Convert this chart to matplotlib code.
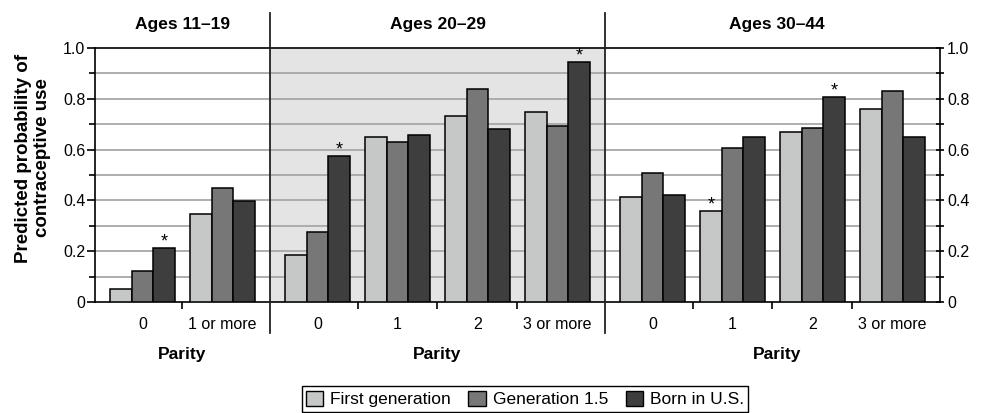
import numpy as np
import matplotlib
matplotlib.use("Agg")
import matplotlib.pyplot as plt
from matplotlib.lines import Line2D
from matplotlib.patches import Patch

plt.rcParams['font.family'] = ['Liberation Sans', 'DejaVu Sans']

# data
series = ["First generation", "Generation 1.5", "Born in U.S."]
colors = ["#c6c8c7", "#777777", "#3e3e3e"]

panels = ["Ages 11\u201319", "Ages 20\u201329", "Ages 30\u201344"]
cats_young = ["0", "1 or more"]
cats_older = ["0", "1", "2", "3 or more"]

first_gen = [[0.053, 0.346],
             [0.187, 0.648, 0.732, 0.748],
             [0.415, 0.360, 0.668, 0.761]]
gen_15 = [[0.121, 0.447],
          [0.275, 0.631, 0.838, 0.694],
          [0.507, 0.608, 0.685, 0.830]]
born_us = [[0.212, 0.397],
           [0.576, 0.658, 0.682, 0.946],
           [0.422, 0.648, 0.808, 0.648]]

# significance stars: (panel, category, series index)
stars = [(0, 0, 2), (1, 0, 2), (1, 3, 2), (2, 1, 0), (2, 2, 2)]

W, H = 987, 413
fig = plt.figure(figsize=(W / 100, H / 100), dpi=100)

# panel extents in pixels
px_left = [95, 270, 605]
px_right = [270, 605, 940]
y_top, y_bot = 48, 302

bw = 0.267
pad = 0.094
axes = []
for p in range(3):
    cats = cats_young if p == 0 else cats_older
    n = len(cats)
    ax = fig.add_axes([px_left[p] / W, 1 - y_bot / H,
                       (px_right[p] - px_left[p]) / W, (y_bot - y_top) / H])
    axes.append(ax)
    x = np.arange(n)
    vals = [first_gen[p], gen_15[p], born_us[p]]
    for s in range(3):
        ax.bar(x + (s - 1) * bw, vals[s], bw, color=colors[s],
               edgecolor="black", linewidth=1.1, zorder=3)
    for (sp, c, s) in stars:
        if sp == p:
            ax.annotate("*", (c + (s - 1) * bw, vals[s][c]),
                        xytext=(0, 1), textcoords="offset points",
                        ha="center", va="baseline", fontsize=13, zorder=4,
                        annotation_clip=False)

    ax.set_xlim(-0.5 - pad, n - 0.5 + pad)
    ax.set_ylim(0, 1.0)
    for g in np.arange(0.1, 1.0, 0.1):
        ax.axhline(g, color="#a8a8a8", linewidth=1.3, zorder=1)
    if p == 1:
        ax.set_facecolor("#e4e4e4")

    ax.spines["top"].set_linewidth(1.2)
    ax.spines["bottom"].set_linewidth(1.2)
    ax.spines["left"].set_visible(p == 0)
    ax.spines["right"].set_visible(p == 2)
    ax.spines["left"].set_linewidth(1.2)
    ax.spines["right"].set_linewidth(1.2)

    # x ticks on the category boundaries, labels at the centres
    ax.set_xticks(np.arange(0.5, n - 0.5, 1.0))
    ax.set_xticklabels([])
    ax.set_xticks(x, minor=True)
    ax.set_xticklabels(cats, minor=True, fontsize=11.5)
    ax.tick_params(axis="x", which="major", direction="out", length=5, width=1.2)
    ax.tick_params(axis="x", which="minor", length=0, pad=11)

    yt = [0, 0.2, 0.4, 0.6, 0.8, 1.0]
    ylab = ["0", "0.2", "0.4", "0.6", "0.8", "1.0"]
    if p == 0:
        ax.set_yticks(yt)
        ax.set_yticklabels(ylab, fontsize=11.5)
        ax.set_yticks(np.arange(0.1, 1.0, 0.2), minor=True)
        ax.tick_params(axis="y", which="major", direction="out", length=6, width=1.2, pad=1)
        ax.tick_params(axis="y", which="minor", direction="out", length=4, width=1.2)
    elif p == 2:
        ax.yaxis.tick_right()
        ax.set_yticks(yt)
        ax.set_yticklabels(ylab, fontsize=11.5)
        ax.set_yticks(np.arange(0.1, 1.0, 0.2), minor=True)
        ax.tick_params(axis="y", which="major", direction="inout", length=6, width=1.2, pad=2)
        ax.tick_params(axis="y", which="minor", direction="inout", length=6, width=1.2)
    else:
        ax.set_yticks([])

    cx = (px_left[p] + px_right[p]) / 2 / W
    if p == 2:
        cx = 777 / W
    fig.text(cx, 1 - 25 / H, panels[p], ha="center", va="center",
             fontsize=12.5, fontweight="bold")
    fig.text(cx, 1 - 355 / H, "Parity", ha="center", va="center",
             fontsize=12.5, fontweight="bold")

fig.text(33 / W, 1 - 158 / H, "Predicted probability of\ncontraceptive use",
         rotation=90, ha="center", va="center", fontsize=13.5,
         fontweight="bold", linespacing=1.15)

# vertical separators between the age panels
for xs in [270, 605]:
    fig.add_artist(Line2D([xs / W, xs / W], [1 - 333 / H, 1 - 13 / H],
                          color="#222222", linewidth=1.3))

handles = [Patch(facecolor=colors[i], edgecolor="black", linewidth=1.0)
           for i in range(3)]
leg = fig.legend(handles, series, loc="center", bbox_to_anchor=(525 / W, 1 - 399 / H),
                 ncol=3, fontsize=12.5, frameon=True, fancybox=False,
                 edgecolor="black", framealpha=1, handlelength=1.0, handleheight=1.0,
                 handletextpad=0.4, columnspacing=1.0, borderpad=0.25,
                 borderaxespad=0)
leg.get_frame().set_linewidth(1.0)

fig.savefig("out.png", dpi=100)
